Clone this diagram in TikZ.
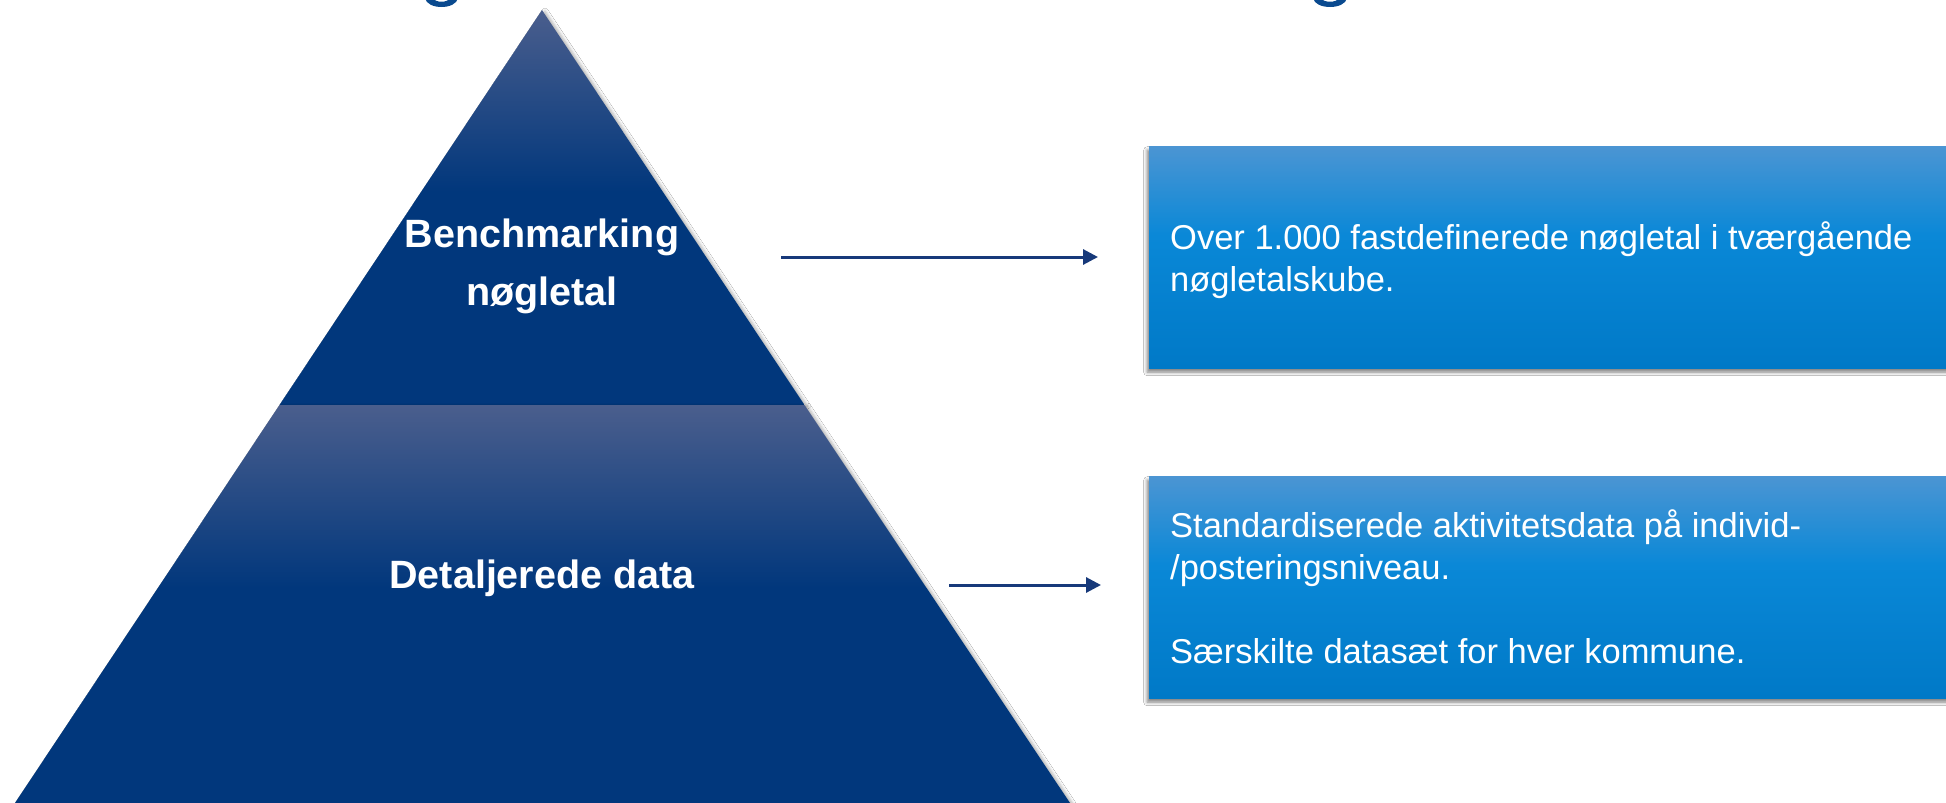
\documentclass[tikz,border=0pt]{standalone}
\usepackage{fontspec}
\setmainfont{Liberation Sans}
\usetikzlibrary{arrows.meta,shadows.blur}
\definecolor{navy}{HTML}{01377C}
\definecolor{slate}{HTML}{4A5E8D}
\definecolor{arrowblue}{HTML}{17397A}
\definecolor{titleblue}{HTML}{0A4A8F}
\definecolor{boxtop}{HTML}{4B95D3}
\definecolor{boxmid}{HTML}{0A88D7}
\definecolor{boxbot}{HTML}{0079C7}
\pgfdeclareverticalshading{pyrshade}{100bp}{color(0bp)=(navy); color(25bp)=(navy); color(52bp)=(navy); color(75bp)=(slate); color(100bp)=(slate)}
\pgfdeclareverticalshading{boxshade}{100bp}{color(0bp)=(boxbot); color(25bp)=(boxbot); color(55bp)=(boxmid); color(75bp)=(boxtop); color(100bp)=(boxtop)}
\tikzset{
  pyrpart/.style={shading=pyrshade, draw=none,
    blur shadow={shadow xshift=3pt, shadow yshift=-1pt, shadow blur radius=3pt, shadow opacity=30}},
  pyrlabel/.style={text=white, font=\fontsize{39.5}{58}\selectfont\bfseries, align=center, inner sep=0pt},
  infobox/.style={rectangle, shading=boxshade, draw=none, inner sep=0pt, anchor=north west,
    minimum width=830pt, minimum height=222pt,
    blur shadow={shadow xshift=-2pt, shadow yshift=-4pt, shadow blur radius=3.5pt, shadow opacity=50}},
  boxtext/.style={text=white, font=\fontsize{34.5}{42}\selectfont, align=left, inner sep=0pt, anchor=north west},
  arr/.style={draw=arrowblue, line width=3pt, -{Triangle[length=15pt,width=15pt]}},
  titlefrag/.style={fill=titleblue, draw=none}
}
\begin{document}
\begin{tikzpicture}[x=1pt,y=-1pt]
\useasboundingbox (0,0) rectangle (1946,803);
\fill[white] (0,0) rectangle (1946,803);

% cut-off title glyph fragments at the top edge
\path[titlefrag] (425,-2) .. controls (427,10) and (456,10) .. (458,-2) -- (450,-2) .. controls (448,3) and (435,3) .. (433,-2) -- cycle;
\path[titlefrag] (1313,-2) .. controls (1315,10) and (1345,10) .. (1347,-2) -- (1339,-2) .. controls (1337,3) and (1323,3) .. (1321,-2) -- cycle;

% pyramid
\coordinate (apex) at (542,10);
\coordinate (ml) at (279.5,405);
\coordinate (mr) at (804.5,405);
\coordinate (bl) at (15,803);
\coordinate (br) at (1070,803);
\path[pyrpart] (apex) -- (ml) -- (mr) -- cycle;
\path[pyrpart] (ml) -- (bl) -- (br) -- (mr) -- cycle;

\node[pyrlabel, anchor=north] (bench) at (542,206.4) {\strut Benchmarking\\nøgletal};
\node[pyrlabel, anchor=base] (detal) at (542,588) {Detaljerede data};

% info boxes
\node[infobox] (box1) at (1149,146) {};
\node[infobox] (box2) at (1149,476) {};
\node[boxtext] (t1) at (1170,219.6) {\strut Over 1.000 fastdefinerede nøgletal i tværgående\\nøgletalskube.};
\node[boxtext] (t2) at (1170,507.6) {\strut Standardiserede aktivitetsdata på individ-\\/posteringsniveau.\\[42pt]Særskilte datasæt for hver kommune.};

% arrows
\coordinate (a1s) at (781,257);
\coordinate (a2s) at (949,585);
\draw[arr, shorten >=51pt] (a1s) -- (a1s -| box1.west);
\draw[arr, shorten >=48pt] (a2s) -- (a2s -| box2.west);
\end{tikzpicture}
\end{document}
